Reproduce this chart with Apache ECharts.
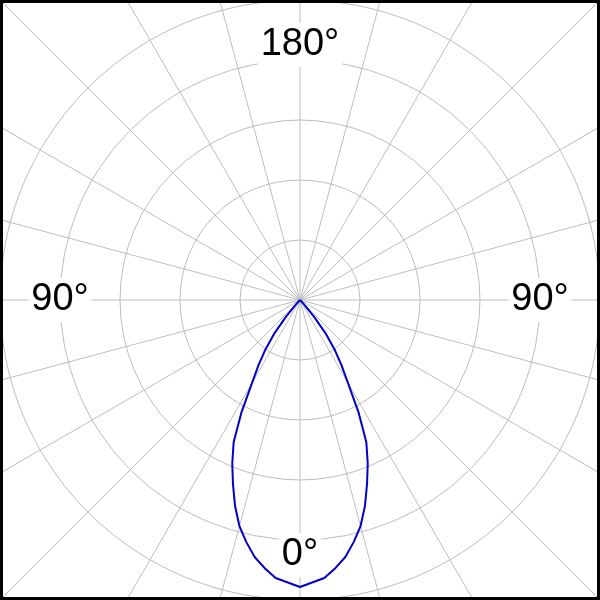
<!DOCTYPE html>
<html>
<head>
<meta charset="utf-8">
<script src="https://cdn.jsdelivr.net/npm/echarts@6/dist/echarts.min.js"></script>
<style>html,body{margin:0;padding:0;background:#fff}#c{width:600px;height:600px}</style>
</head>
<body>
<div id="c"></div>
<script>
// Polar angle in degrees (0 = down, clockwise) and relative intensity
const curveAngles = [315, 317.5, 320, 322.5, 325, 327.5, 330, 332.5, 335, 337.5, 340, 342.5, 345, 347.5, 350, 352.5, 355, 360,
                     5, 7.5, 10, 12.5, 15, 17.5, 20, 22.5, 25, 27.5, 30, 32.5, 35, 37.5, 40, 42.5, 45];
const curveValues = [0, 6, 22, 42, 60, 77, 96, 127, 157, 177, 196, 216, 234, 248, 261, 270.5, 279, 287,
                     279, 270.5, 261, 248, 234, 216, 196, 177, 157, 127, 96, 77, 60, 42, 22, 6, 0];
const tickLabels = ['0°', '90°', '180°', '90°'];
const tickAngles = [0, 90, 180, 270];

const labelRadius = [255, 240, 255, 240];
const chart = echarts.init(document.getElementById('c'), null, {renderer: 'canvas'});
const gridColor = '#bdbdbd';
chart.setOption({
  animation: false,
  backgroundColor: '#fff',
  polar: [
    {center: [300, 300], radius: 300},
    {center: [300, 300], radius: 430}
  ],
  angleAxis: [
    {polarIndex: 0, type: 'value', min: 0, max: 360, interval: 15, startAngle: 270, clockwise: true,
     axisLine: {show: false}, axisTick: {show: false}, axisLabel: {show: false}, splitLine: {show: false}},
    {polarIndex: 1, type: 'value', min: 0, max: 360, interval: 15, startAngle: 270, clockwise: true,
     axisLine: {show: false}, axisTick: {show: false}, axisLabel: {show: false},
     splitLine: {show: true, lineStyle: {color: gridColor, width: 1}}}
  ],
  radiusAxis: [
    {polarIndex: 0, type: 'value', min: 0, max: 300, interval: 60,
     axisLine: {show: false}, axisTick: {show: false}, axisLabel: {show: false},
     splitLine: {show: true, lineStyle: {color: gridColor, width: 1}}},
    {polarIndex: 1, type: 'value', min: 0, max: 1,
     axisLine: {show: false}, axisTick: {show: false}, axisLabel: {show: false}, splitLine: {show: false}}
  ],
  series: [
    {
      type: 'line', coordinateSystem: 'polar', polarIndex: 0,
      data: curveValues.map((v, i) => [v, curveAngles[i]]),
      symbol: 'none', smooth: false,
      lineStyle: {color: '#0000c8', width: 2},
      z: 3
    },
    {
      type: 'scatter', coordinateSystem: 'polar', polarIndex: 0,
      symbolSize: 0,
      itemStyle: {opacity: 1},
      emphasis: {disabled: true},
      data: tickLabels.map((t, i) => ({name: t, value: [labelRadius[i], tickAngles[i]]})),
      label: {
        show: true, position: 'inside', formatter: p => p.name,
        fontFamily: 'Liberation Sans, Arial, sans-serif', fontSize: 38, color: '#000', opacity: 1,
        textBorderWidth: 0,
        backgroundColor: '#fff', padding: [0, 3], lineHeight: 44
      },
      z: 4
    }
  ],
  graphic: [{
    type: 'rect', shape: {x: 1.5, y: 1.5, width: 597, height: 597},
    style: {fill: 'none', stroke: '#000', lineWidth: 3}, z: 100
  }]
});
</script>
</body>
</html>
